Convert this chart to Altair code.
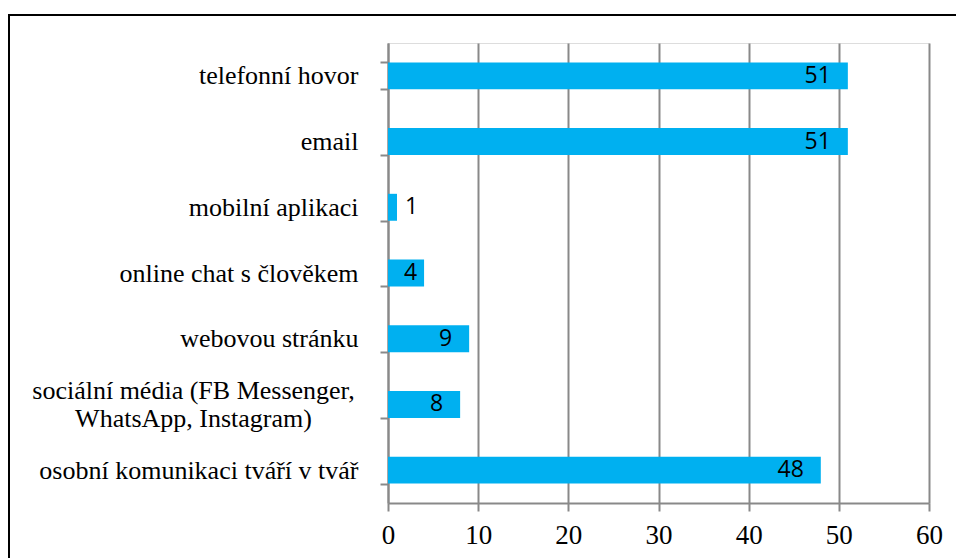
import altair as alt
import pandas as pd

categories = [
    "telefonní hovor",
    "email",
    "mobilní aplikaci",
    "online chat s člověkem",
    "webovou stránku",
    "sociální média (FB Messenger, WhatsApp, Instagram)",
    "osobní komunikaci tváří v tvář",
]
values = [51, 51, 1, 4, 9, 8, 48]
x_ticks = [0, 10, 20, 30, 40, 50, 60]

df = pd.DataFrame({"kategorie": categories, "pocet": values})
SOC = "sociální média (FB Messenger, WhatsApp, Instagram)"
is_soc = f"datum.value == '{SOC}'"

y_enc = alt.Y(
    "kategorie:N",
    sort=categories,
    title=None,
    scale=alt.Scale(paddingInner=0.59, paddingOuter=0.295),
    axis=alt.Axis(
        tickBand="extent",
        tickSize=8,
        tickColor="#898989",
        tickWidth=2,
        domainColor="#898989",
        domainWidth=2,
        labelFont="Liberation Serif",
        labelFontSize=26,
        labelColor="#000000",
        labelLimit=500,
        labelLineHeight=28,
        labelAlign={"condition": {"test": is_soc, "value": "center"}, "value": "right"},
        labelPadding={"condition": {"test": is_soc, "value": 187}, "value": 22},
        labelOffset={"condition": {"test": is_soc, "value": -14}, "value": 0},
        labelExpr=f"datum.label == '{SOC}' ? ['sociální média (FB Messenger,', 'WhatsApp, Instagram)'] : datum.label",
    ),
)

x_enc = alt.X(
    "pocet:Q",
    title=None,
    scale=alt.Scale(domain=[0, 60], nice=False),
    axis=alt.Axis(
        values=x_ticks,
        grid=True,
        gridColor="#898989",
        gridWidth=2,
        tickSize=8,
        tickColor="#898989",
        tickWidth=2,
        domainColor="#898989",
        domainWidth=2,
        labelFont="Liberation Serif",
        labelFontSize=27,
        labelColor="#000000",
        labelPadding=11,
        labelFlush=False,
    ),
)

base = alt.Chart(df)

bars = base.mark_bar(color="#00B0F0").encode(x=x_enc, y=y_enc)

lab_font = dict(font="Open Sans", fontSize=23, color="#000000", baseline="middle")
y_plain = alt.Y("kategorie:N", sort=categories)
lab_in = base.transform_filter("datum.pocet >= 5").mark_text(align="right", dx=-17, **lab_font).encode(
    x="pocet:Q", y=y_plain, text="pocet:Q")
lab_short = base.transform_filter("datum.pocet >= 3 && datum.pocet < 5").mark_text(align="right", dx=-7, **lab_font).encode(
    x="pocet:Q", y=y_plain, text="pocet:Q")
lab_out = base.transform_filter("datum.pocet < 3").mark_text(align="left", dx=8, **lab_font).encode(
    x="pocet:Q", y=y_plain, text="pocet:Q")

frame_df = pd.DataFrame({"a": [0]})
frame_left = alt.Chart(frame_df).mark_rule(color="#000000", strokeWidth=2).encode(
    x=alt.value(-379), y=alt.value(-28), y2=alt.value(700))
frame_top = alt.Chart(frame_df).mark_rule(color="#000000", strokeWidth=2).encode(
    x=alt.value(-380), x2=alt.value(900), y=alt.value(-28))

chart = alt.layer(bars, lab_in, lab_short, lab_out, frame_left, frame_top).properties(
    width=541,
    height=460,
    autosize=alt.AutoSizeParams(type="none"),
    padding={"left": 388, "top": 43, "right": 27, "bottom": 55},
).configure_view(stroke=None).configure(background="#ffffff")

chart.save("out.html", embed_options={"renderer": "svg", "actions": False})
